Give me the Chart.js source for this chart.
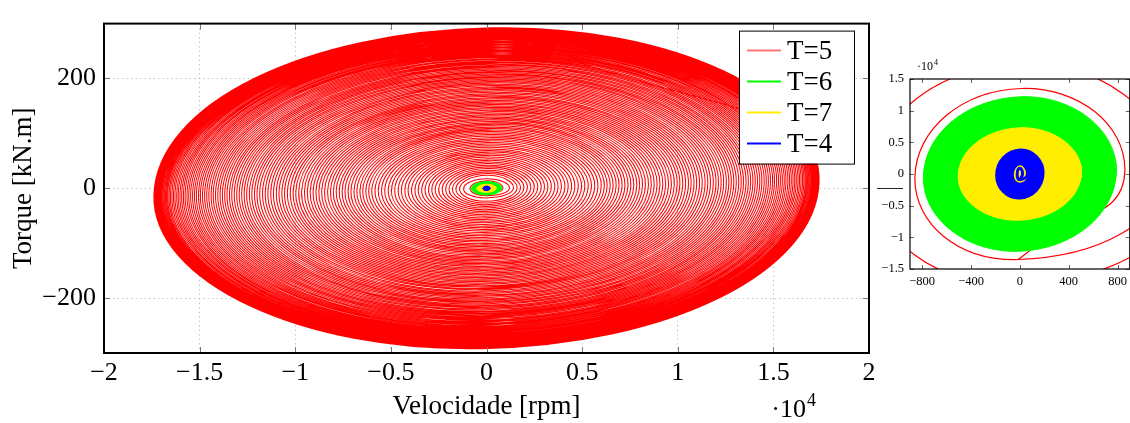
<!DOCTYPE html>
<html>
<head>
<meta charset="utf-8">
<script src="https://cdn.jsdelivr.net/npm/chart.js@4.4.1/dist/chart.umd.min.js"></script>
<style>
  html, body { margin: 0; padding: 0; background: #fff; overflow: hidden; width: 1130px; height: 423px; }
  #main { position: absolute; left: 0; top: 0; }
  #inset { position: absolute; left: 872px; top: 50px; }
</style>
</head>
<body>
<canvas id="main" width="1130" height="423"></canvas>
<canvas id="inset" width="260" height="250"></canvas>
<script>
const seriesLabels = ["T=5", "T=6", "T=7", "T=4"];
const seriesColors = ["#ff0000", "#00ff00", "#ffee00", "#0000ff"];

// one entry per revolution: speed peak [rpm] and torque peak [kN.m]
const t5Speed = [
  860, 1200, 1410, 1600, 1780, 1960, 2140, 2320, 2500, 2680, 2860, 3030, 3210, 3390, 3570, 3740, 3920, 4100, 4270, 4450,
  4620, 4800, 4970, 5140, 5320, 5490, 5660, 5830, 6000,
  6160, 6310, 6470, 6620, 6780, 6930, 7090, 7240, 7400, 7550, 7700, 7860, 8010, 8160, 8310, 8470, 8620, 8770, 8920, 9070,
  9220, 9370, 9520, 9670, 9820, 9970, 10110, 10260, 10410, 10560, 10700, 10850, 10990, 11140, 11280, 11430, 11570, 11710,
  11860, 12000,
  12130, 12270, 12400, 12540, 12670, 12800, 12930, 13060, 13190, 13320, 13440, 13570, 13690, 13810, 13930, 14050, 14170,
  14290, 14400, 14520, 14630, 14740, 14850, 14960, 15060, 15170, 15270, 15370, 15470, 15570, 15660, 15760, 15850, 15940,
  16030, 16120, 16200, 16290, 16370, 16450, 16530, 16600,
  16670, 16730, 16790, 16850, 16910, 16970, 17020, 17070, 17120, 17170, 17210, 17250, 17290, 17330, 17360, 17390,
];
const t5Torque = [
  13.5, 17.5, 23.7, 26.9, 29.9, 32.9, 36.0, 39.0, 42.0, 45.0, 48.0, 50.9, 53.9, 57.0, 60.0, 62.8, 65.9, 68.9, 71.7, 74.8,
  77.6, 80.6, 83.5, 86.4, 89.4, 92.2, 95.1, 97.9, 100.8,
  103.5, 106.0, 108.7, 111.2, 113.9, 116.4, 119.1, 121.6, 124.3, 126.8, 129.4, 132.0, 134.6, 137.1, 139.6, 142.3, 144.8,
  147.3, 149.9, 152.4, 154.9, 157.4, 159.9, 162.5, 165.0, 167.5, 169.8, 172.4, 174.9, 177.4, 179.8, 182.3, 184.6, 187.2,
  189.5, 192.0, 194.4, 196.7, 199.2, 201.6,
  203.8, 206.1, 208.3, 210.7, 212.9, 215.0, 217.2, 219.4, 221.6, 223.8, 225.8, 228.0, 230.0, 232.0, 234.0, 236.0, 238.1,
  240.1, 241.9, 243.9, 245.8, 247.6, 249.5, 251.3, 253.0, 254.9, 256.5, 258.2, 259.9, 261.6, 263.1, 264.8, 266.3, 267.8,
  269.3, 270.8, 272.2, 273.7, 275.0, 276.4, 277.7, 278.9,
  280.1, 281.1, 282.1, 283.1, 284.1, 285.1, 285.9, 286.8, 287.6, 288.5, 289.1, 289.8, 290.5, 291.1, 291.6, 292.2,
];
const t6Speed = [560, 610, 660, 710, 750, 790];
const t6Torque = [8.6, 9.3, 10.0, 10.8, 11.5, 12.2];
const t7Speed = [52, 110, 190, 280, 370, 440, 505];
const t7Torque = [1.5, 2.2, 3.1, 4.2, 5.3, 6.3, 7.3];
const t4Speed = [22, 62, 82, 102, 122, 142, 160, 176, 190];
const t4Torque = [0.9, 1.6, 1.9, 2.2, 2.6, 2.9, 3.3, 3.6, 3.8];

// the loops lean a little: top sits right of centre, right end sits above zero
const loopSkew = { speed: 0.015, torque: 0.04 };

const mainSpeedTicks = [-20000, -15000, -10000, -5000, 0, 5000, 10000, 15000, 20000];
const mainTorqueTicks = [-200, 0, 200];
const insetSpeedTicks = [-800, -400, 0, 400, 800];
const insetTorqueTicks = [-15, -10, -5, 0, 5, 10, 15];

Chart.defaults.font.family = "'Liberation Serif', 'DejaVu Serif', serif";
Chart.defaults.color = "#000";

const fmt = (v) => String(Math.round(v * 100) / 100).replace("-", "\u2212");

function spiralPoints(speed, torque) {
  const points = [];
  speed.forEach((s, i) => {
    const q = torque[i];
    points.push(
      { x: s, y: q * loopSkew.torque },
      { x: s * loopSkew.speed, y: q },
      { x: -s, y: -q * loopSkew.torque },
      { x: -s * loopSkew.speed, y: -q }
    );
  });
  // run the last turn on a quarter so its closing arc keeps its curve
  const n = points.length;
  points.push({ ...points[n - 4] }, { ...points[n - 3] });
  points.unshift({ ...points[3] });
  return points;
}

function buildDatasets(widths) {
  return [
    { label: seriesLabels[0], data: spiralPoints(t5Speed, t5Torque), borderColor: seriesColors[0], fill: false, order: 4 },
    { label: seriesLabels[1], data: spiralPoints(t6Speed, t6Torque), borderColor: seriesColors[1], backgroundColor: seriesColors[1], fill: "shape", order: 3 },
    { label: seriesLabels[2], data: spiralPoints(t7Speed, t7Torque), borderColor: seriesColors[2], backgroundColor: seriesColors[2], fill: "shape", order: 2 },
    { label: seriesLabels[3], data: spiralPoints(t4Speed, t4Torque), borderColor: seriesColors[3], fill: false, order: 1 },
  ].map((ds, i) => ({ ...ds, borderWidth: widths[i], showLine: true, pointRadius: 0, tension: 0.552 }));
}

const fixedTicks = (values) => (scale) => {
  scale.ticks = values.map((value) => ({ value }));
};

const framePlugin = {
  id: "frame",
  afterDraw(chart, args, opts) {
    const { ctx, chartArea: a, scales } = chart;
    ctx.save();
    ctx.strokeStyle = opts.tickColor;
    ctx.lineWidth = 1;
    ctx.beginPath();
    scales.x.ticks.forEach((t) => {
      const px = Math.round(scales.x.getPixelForValue(t.value)) + 0.5;
      ctx.moveTo(px, a.bottom);
      ctx.lineTo(px, a.bottom - opts.tickLength);
      ctx.moveTo(px, a.top);
      ctx.lineTo(px, a.top + opts.tickLength);
    });
    scales.y.ticks.forEach((t) => {
      const py = Math.round(scales.y.getPixelForValue(t.value)) + 0.5;
      ctx.moveTo(a.left, py);
      ctx.lineTo(a.left + opts.tickLength, py);
      ctx.moveTo(a.right, py);
      ctx.lineTo(a.right - opts.tickLength, py);
    });
    ctx.stroke();
    if (opts.zeroStub) {
      const py = Math.round(scales.y.getPixelForValue(0)) + 0.5;
      ctx.strokeStyle = "#222";
      ctx.beginPath();
      ctx.moveTo(a.right + opts.zeroStub[0], py);
      ctx.lineTo(a.right + opts.zeroStub[1], py);
      ctx.stroke();
    }
    ctx.strokeStyle = "#000";
    ctx.lineWidth = opts.width;
    ctx.strokeRect(a.left, a.top, a.right - a.left, a.bottom - a.top);
    // scale factor note, e.g. "·10^4"
    const n = opts.note;
    ctx.fillStyle = "#000";
    ctx.textBaseline = "alphabetic";
    ctx.font = `${n.size}px 'Liberation Serif', serif`;
    ctx.textAlign = "right";
    const nx = n.fromRight ? a.right - n.x : a.left + n.x;
    const ny = n.fromBottom ? chart.height - n.y : a.top - n.y;
    ctx.fillText("\u00b710", nx, ny);
    ctx.textAlign = "left";
    ctx.font = `${Math.round(n.size * 0.7)}px 'Liberation Serif', serif`;
    ctx.fillText("4", nx + 1, ny - n.size * 0.42);
    ctx.restore();
  },
};

const legendBoxPlugin = {
  id: "legendBox",
  afterDraw(chart, args, opts) {
    if (!opts.show) return;
    const { ctx, chartArea: a } = chart;
    const left = a.right - opts.offsetRight - opts.width;
    const top = a.top + opts.offsetTop;
    ctx.save();
    ctx.fillStyle = "#fff";
    ctx.fillRect(left, top, opts.width, opts.height);
    ctx.strokeStyle = "#000";
    ctx.lineWidth = 1;
    ctx.strokeRect(left + 0.5, top + 0.5, opts.width, opts.height);
    ctx.font = `${opts.size}px 'Liberation Serif', serif`;
    ctx.textBaseline = "middle";
    ctx.textAlign = "left";
    chart.data.datasets.forEach((ds, i) => {
      const y = top + opts.firstRow + i * opts.rowGap;
      ctx.strokeStyle = ds.borderColor;
      ctx.globalAlpha = opts.lineAlpha[i];
      ctx.lineWidth = opts.lineWidths[i];
      ctx.beginPath();
      ctx.moveTo(left + 8, y);
      ctx.lineTo(left + 42, y);
      ctx.stroke();
      ctx.globalAlpha = 1;
      ctx.fillStyle = "#000";
      ctx.fillText(ds.label, left + 48, y + 1);
    });
    ctx.restore();
  },
};

new Chart(document.getElementById("main"), {
  type: "scatter",
  data: { datasets: buildDatasets([1.05, 1, 1, 1]) },
  plugins: [framePlugin, legendBoxPlugin],
  options: {
    responsive: false,
    animation: false,
    events: [],
    layout: { padding: { top: 15, right: 261, left: 0, bottom: 0 } },
    elements: { line: { capBezierPoints: false } },
    plugins: {
      legend: { display: false },
      tooltip: { enabled: false },
      frame: { width: 2, tickLength: 6, tickColor: "#777", zeroStub: [8, 34], note: { size: 26, x: 63, y: 6, fromRight: true, fromBottom: true } },
      legendBox: { show: true, width: 115, height: 133, offsetTop: 7, offsetRight: 15, firstRow: 20, rowGap: 31, size: 27, lineWidths: [2, 2, 2, 2], lineAlpha: [0.55, 1, 1, 1] },
    },
    scales: {
      x: {
        type: "linear",
        min: -20000,
        max: 20000,
        afterBuildTicks: fixedTicks(mainSpeedTicks),
        afterFit: (scale) => { scale.height = 70; },
        ticks: { callback: (v) => fmt(v / 1e4), font: { size: 26 }, padding: 5, maxRotation: 0, autoSkip: false },
        grid: { color: "#c4c4c4", drawTicks: false },
        border: { display: false, dash: [1.5, 3] },
        title: { display: true, text: "Velocidade [rpm]", font: { size: 27 }, padding: 0 },
      },
      y: {
        type: "linear",
        min: -300,
        max: 300,
        afterBuildTicks: fixedTicks(mainTorqueTicks),
        afterFit: (scale) => { scale.width = 104; },
        ticks: { callback: (v) => fmt(v), font: { size: 26 }, padding: 8 },
        grid: { color: "#c4c4c4", drawTicks: false },
        border: { display: false, dash: [1.5, 3] },
        title: { display: true, text: "Torque [kN.m]", font: { size: 27 }, padding: { top: 8 } },
      },
    },
  },
});

new Chart(document.getElementById("inset"), {
  type: "scatter",
  data: { datasets: buildDatasets([1.2, 1, 1, 3]) },
  plugins: [framePlugin],
  options: {
    responsive: false,
    animation: false,
    events: [],
    layout: { padding: { top: 29, right: 1.5, left: 0, bottom: 0 } },
    elements: { line: { capBezierPoints: false } },
    plugins: {
      legend: { display: false },
      tooltip: { enabled: false },
      frame: { width: 1.2, tickLength: 4, tickColor: "#666", note: { size: 12, x: 23, y: 9, fromRight: false, fromBottom: false } },
    },
    scales: {
      x: {
        type: "linear",
        min: -900,
        max: 900,
        afterBuildTicks: fixedTicks(insetSpeedTicks),
        afterFit: (scale) => { scale.height = 31; },
        ticks: { callback: (v) => fmt(v), font: { size: 12.5 }, padding: 5, maxRotation: 0, autoSkip: false },
        grid: { display: false, drawTicks: false },
        border: { display: false },
      },
      y: {
        type: "linear",
        min: -15,
        max: 15,
        afterBuildTicks: fixedTicks(insetTorqueTicks),
        afterFit: (scale) => { scale.width = 38; },
        ticks: { callback: (v) => fmt(v / 10), font: { size: 12.5 }, padding: 6 },
        grid: { display: false, drawTicks: false },
        border: { display: false },
      },
    },
  },
});
</script>
</body>
</html>
